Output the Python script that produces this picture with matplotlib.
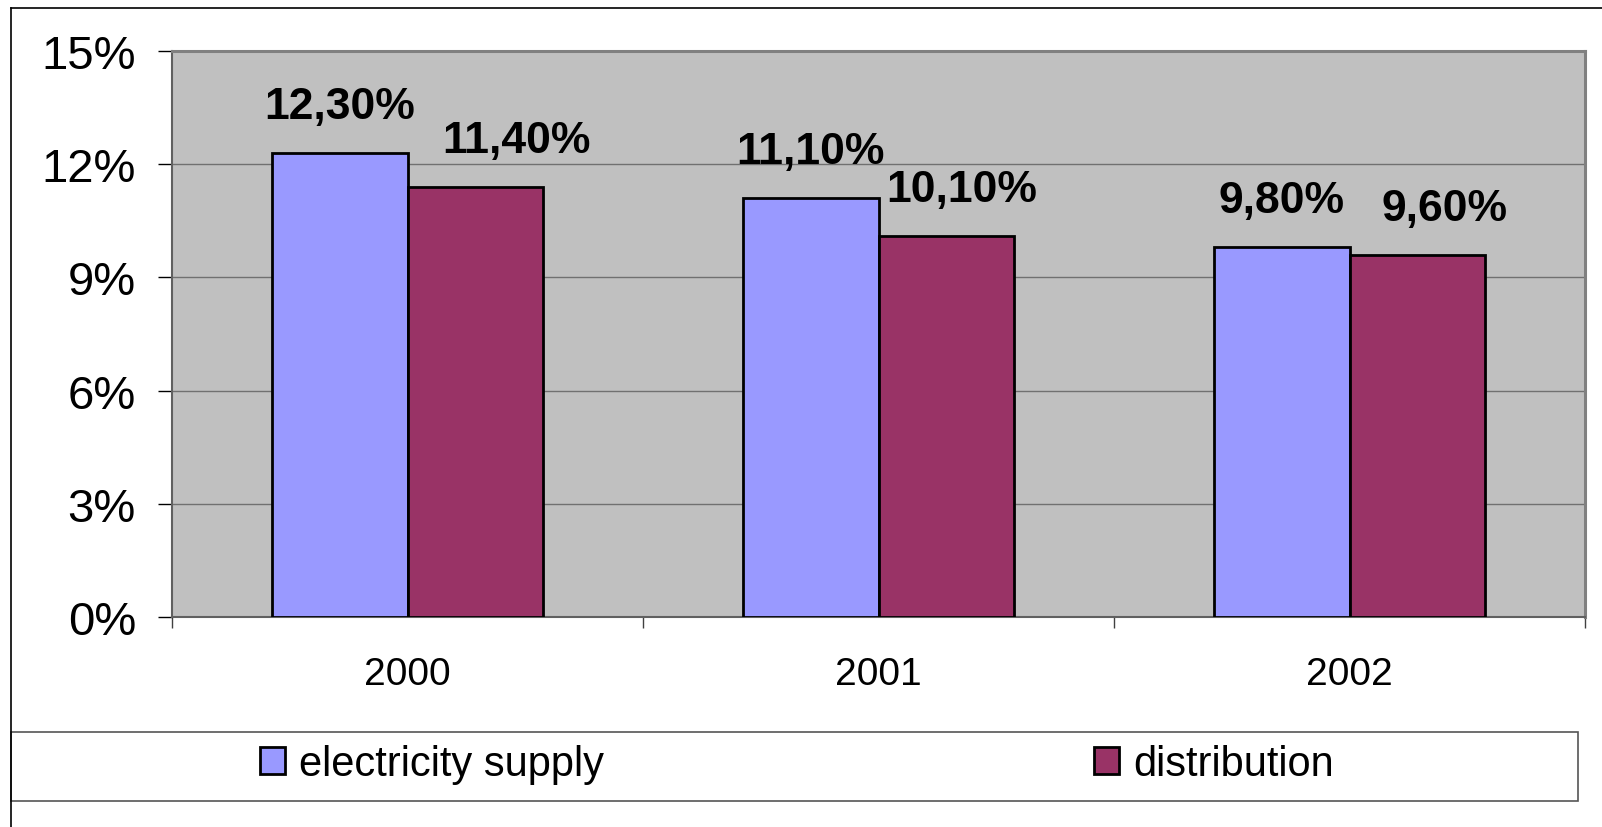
import matplotlib
matplotlib.use("Agg")
import matplotlib.pyplot as plt
import numpy as np
from matplotlib.patches import Rectangle
from matplotlib.lines import Line2D

plt.rcParams["font.family"] = ["Liberation Sans", "DejaVu Sans"]

# data
years = ["2000", "2001", "2002"]
electricity = [12.3, 11.1, 9.8]
distribution = [11.4, 10.1, 9.6]
series_names = ["electricity supply", "distribution"]
colors = ["#9999FF", "#993366"]

W, H = 1602, 828
fig = plt.figure(figsize=(W / 100, H / 100), dpi=100)

# outer chart frame
fig.add_artist(Line2D([11 / W, 1], [1 - 9 / H, 1 - 9 / H], color="black", lw=1.2))
fig.add_artist(Line2D([11 / W, 11 / W], [0, 1 - 9 / H], color="black", lw=1.2))

ax = fig.add_axes([172 / W, (H - 618) / H, 1413 / W, 566 / H])
ax.set_facecolor("#C0C0C0")

x = np.arange(len(years))
bw = 0.287
b1 = ax.bar(x - bw / 2, electricity, bw, color=colors[0], edgecolor="black",
            linewidth=2, label=series_names[0], zorder=3)
b2 = ax.bar(x + bw / 2, distribution, bw, color=colors[1], edgecolor="black",
            linewidth=2, label=series_names[1], zorder=3)

# excel nudged the distribution labels sideways
shifts = [[0, 0, 0], [30, 11, 20]]
for bars, vals, sh in [(b1, electricity, shifts[0]), (b2, distribution, shifts[1])]:
    for r, v, dx in zip(bars, vals, sh):
        ax.annotate(f"{v:.2f}%".replace(".", ","),
                    (r.get_x() + r.get_width() / 2, r.get_height()),
                    xytext=(dx, 25), textcoords="offset points",
                    ha="center", va="baseline", fontsize=32, fontweight="bold")

ax.set_xlim(-0.5, 2.5)
ax.set_ylim(0, 15)
ax.set_yticks([0, 3, 6, 9, 12, 15])
ax.set_yticklabels([f"{t}%" for t in [0, 3, 6, 9, 12, 15]])
ax.yaxis.grid(True, color="#707070", linewidth=1, zorder=0)
ax.set_axisbelow(True)
ax.tick_params(axis="y", direction="out", length=10, width=1, pad=16,
               labelsize=34, color="black")

ax.set_xticks([-0.5, 0.5, 1.5, 2.5])
ax.set_xticklabels([])
ax.set_xticks(x, minor=True)
ax.set_xticklabels(years, minor=True)
ax.tick_params(axis="x", which="major", direction="out", length=8, width=1, color="#404040")
ax.tick_params(axis="x", which="minor", length=0, pad=28, labelsize=28)

for s in ["top", "right"]:
    ax.spines[s].set_color("#808080")
    ax.spines[s].set_linewidth(2.2)
ax.spines["left"].set_color("#606060")
ax.spines["left"].set_linewidth(1.5)
ax.spines["bottom"].set_color("#606060")
ax.spines["bottom"].set_linewidth(1.5)

# legend box
fig.add_artist(Rectangle((11 / W, (H - 802) / H), (1578 - 11) / W, 69 / H,
                         transform=fig.transFigure, facecolor="white",
                         edgecolor="#555555", linewidth=1.2))
leg = fig.legend(handles=[b1, b2], labels=series_names, ncol=2, frameon=False,
                 loc="center", bbox_to_anchor=(797 / W, (H - 765) / H),
                 fontsize=30, handlelength=0.6, handleheight=0.6,
                 handletextpad=0.35, columnspacing=11.75, borderpad=0)

fig.savefig("out.png", dpi=100, facecolor="white")
